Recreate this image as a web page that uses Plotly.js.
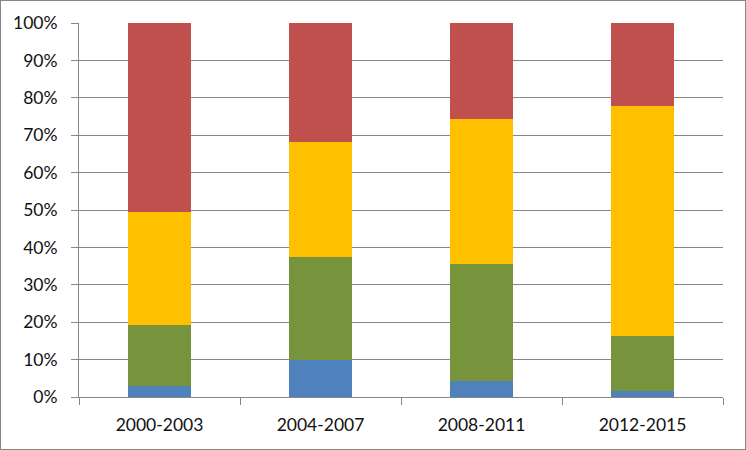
<!DOCTYPE html>
<html>
<head>
<meta charset="utf-8">
<script src="https://cdn.plot.ly/plotly-3.0.1.min.js"></script>
<style>
html,body{margin:0;padding:0;background:#fff;}
#chart{width:744px;height:448px;border:1px solid #868686;}
</style>
</head>
<body>
<div id="chart"></div>
<script>
const categories = ["2000-2003", "2004-2007", "2008-2011", "2012-2015"];
const seriesBlue   = [2.9, 10.0, 4.4, 1.5];
const seriesGreen  = [16.3, 27.5, 31.2, 14.9];
const seriesYellow = [30.3, 30.8, 38.8, 61.5];
const seriesRed    = [50.5, 31.7, 25.6, 22.1];
const yTickValues = [0,10,20,30,40,50,60,70,80,90,100];
const yTickLabels = yTickValues.map(v => v + "%");

function bar(y, color, name) {
  return {type: "bar", x: categories, y: y, name: name,
          marker: {color: color, line: {width: 0}}, hoverinfo: "none"};
}
const data = [
  bar(seriesBlue, "#4F81BD", "S1"),
  bar(seriesGreen, "#77933C", "S2"),
  bar(seriesYellow, "#FFC000", "S3"),
  bar(seriesRed, "#C0504D", "S4")
];
const font = {family: "Lato, 'Open Sans', sans-serif", size: 17.5, color: "#111"};
const layout = {
  width: 744, height: 448,
  margin: {l: 78, r: 22, t: 22, b: 51.5, pad: 0},
  barmode: "stack", bargap: 0.604,
  showlegend: false,
  paper_bgcolor: "#fff", plot_bgcolor: "#fff",
  font: font,
  xaxis: {
    type: "category", tickson: "boundaries", ticks: "outside", ticklen: 7,
    tickcolor: "#868686", tickwidth: 1,
    showline: true, linecolor: "#868686", linewidth: 1,
    showgrid: false, tickfont: font, ticklabelstandoff: 12
  },
  yaxis: {
    range: [0, 100], tickvals: yTickValues, ticktext: yTickLabels,
    ticks: "outside", ticklen: 7, tickcolor: "#868686", tickwidth: 1,
    showline: true, linecolor: "#868686", linewidth: 1,
    showgrid: true, gridcolor: "#868686", gridwidth: 1,
    zeroline: false, tickfont: font, ticklabelstandoff: 10
  }
};
Plotly.newPlot("chart", data, layout, {staticPlot: true, displayModeBar: false});
</script>
</body>
</html>
